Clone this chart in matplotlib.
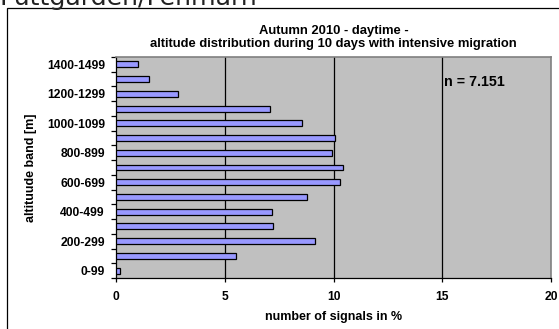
import matplotlib
matplotlib.use("Agg")
import matplotlib.pyplot as plt
from matplotlib.patches import Rectangle

# altitude bands (bottom to top) and share of signals in %
bands = ["0-99", "100-199", "200-299", "300-399", "400-499", "500-599", "600-699",
         "700-799", "800-899", "900-999", "1000-1099", "1100-1199", "1200-1299",
         "1300-1399", "1400-1499"]
signals = [0.2, 5.53, 9.13, 7.23, 7.19, 8.77, 10.28, 10.45, 9.95, 10.08,
           8.57, 7.08, 2.87, 1.53, 1.0]
x_ticks = [0, 5, 10, 15, 20]

plt.rcParams['font.family'] = ['Liberation Sans', 'DejaVu Sans']

fig = plt.figure(figsize=(5.59, 3.29), dpi=100)

# frame of the slide / cut-off heading
fig.patches.append(Rectangle((7 / 559, -0.2), 1.2, 1.2 - 8 / 329,
                             transform=fig.transFigure, fill=False,
                             edgecolor='black', linewidth=0.9))
fig.text(0.0, 1 - 5 / 329, "Puttgarden/Fehmarn", fontsize=18.2, family='DejaVu Sans',
         ha='left', va='baseline', color='#222222')

ax = fig.add_axes([116 / 559, 1 - 278 / 329, (551 - 116) / 559, (278 - 57) / 329])
ax.set_facecolor('#c0c0c0')

pos = list(range(len(bands)))
ax.barh(pos, signals, height=0.4, color='#9999ff', edgecolor='black', linewidth=0.9,
        zorder=3)

ax.set_xlim(0, 20)
ax.set_ylim(-0.5, len(bands) - 0.5)
ax.set_xticks(x_ticks)
ax.set_xticklabels([str(t) for t in x_ticks], fontsize=8.7, fontweight='bold')
for t in x_ticks[1:-1]:
    ax.axvline(t, color='black', linewidth=0.9, zorder=1)

# ticks between bands, labels on every second band
ax.set_yticks([p - 0.5 for p in pos] + [len(bands) - 0.5])
ax.set_yticklabels([])
ax.set_yticks(pos[::2], minor=True)
ax.set_yticklabels(bands[::2], minor=True, fontsize=8.7, fontweight='bold')
ax.tick_params(axis='y', which='major', length=3.5, width=0.9, direction='out')
ax.tick_params(axis='y', which='minor', length=0, pad=8)
ax.tick_params(axis='x', length=3, width=0.9, direction='out', pad=6)

for s in ['left', 'bottom']:
    ax.spines[s].set_color('black')
    ax.spines[s].set_linewidth(0.9)
for s in ['right', 'top']:
    ax.spines[s].set_color('#808080')
    ax.spines[s].set_linewidth(1.2)

ax.set_xlabel("number of signals in %", fontsize=9, fontweight='bold', labelpad=6)
ax.set_ylabel("altituude band [m]", fontsize=9, fontweight='bold', labelpad=7)
ax.set_title("Autumn 2010 - daytime -\naltitude distribution during 10 days with intensive migration",
             fontsize=9.4, fontweight='bold', pad=7, linespacing=1.15)

ax.text(15.1, 12.8, "n = 7.151", fontsize=10.3, fontweight='bold', va='center', ha='left')

fig.savefig("out.png", dpi=100)
